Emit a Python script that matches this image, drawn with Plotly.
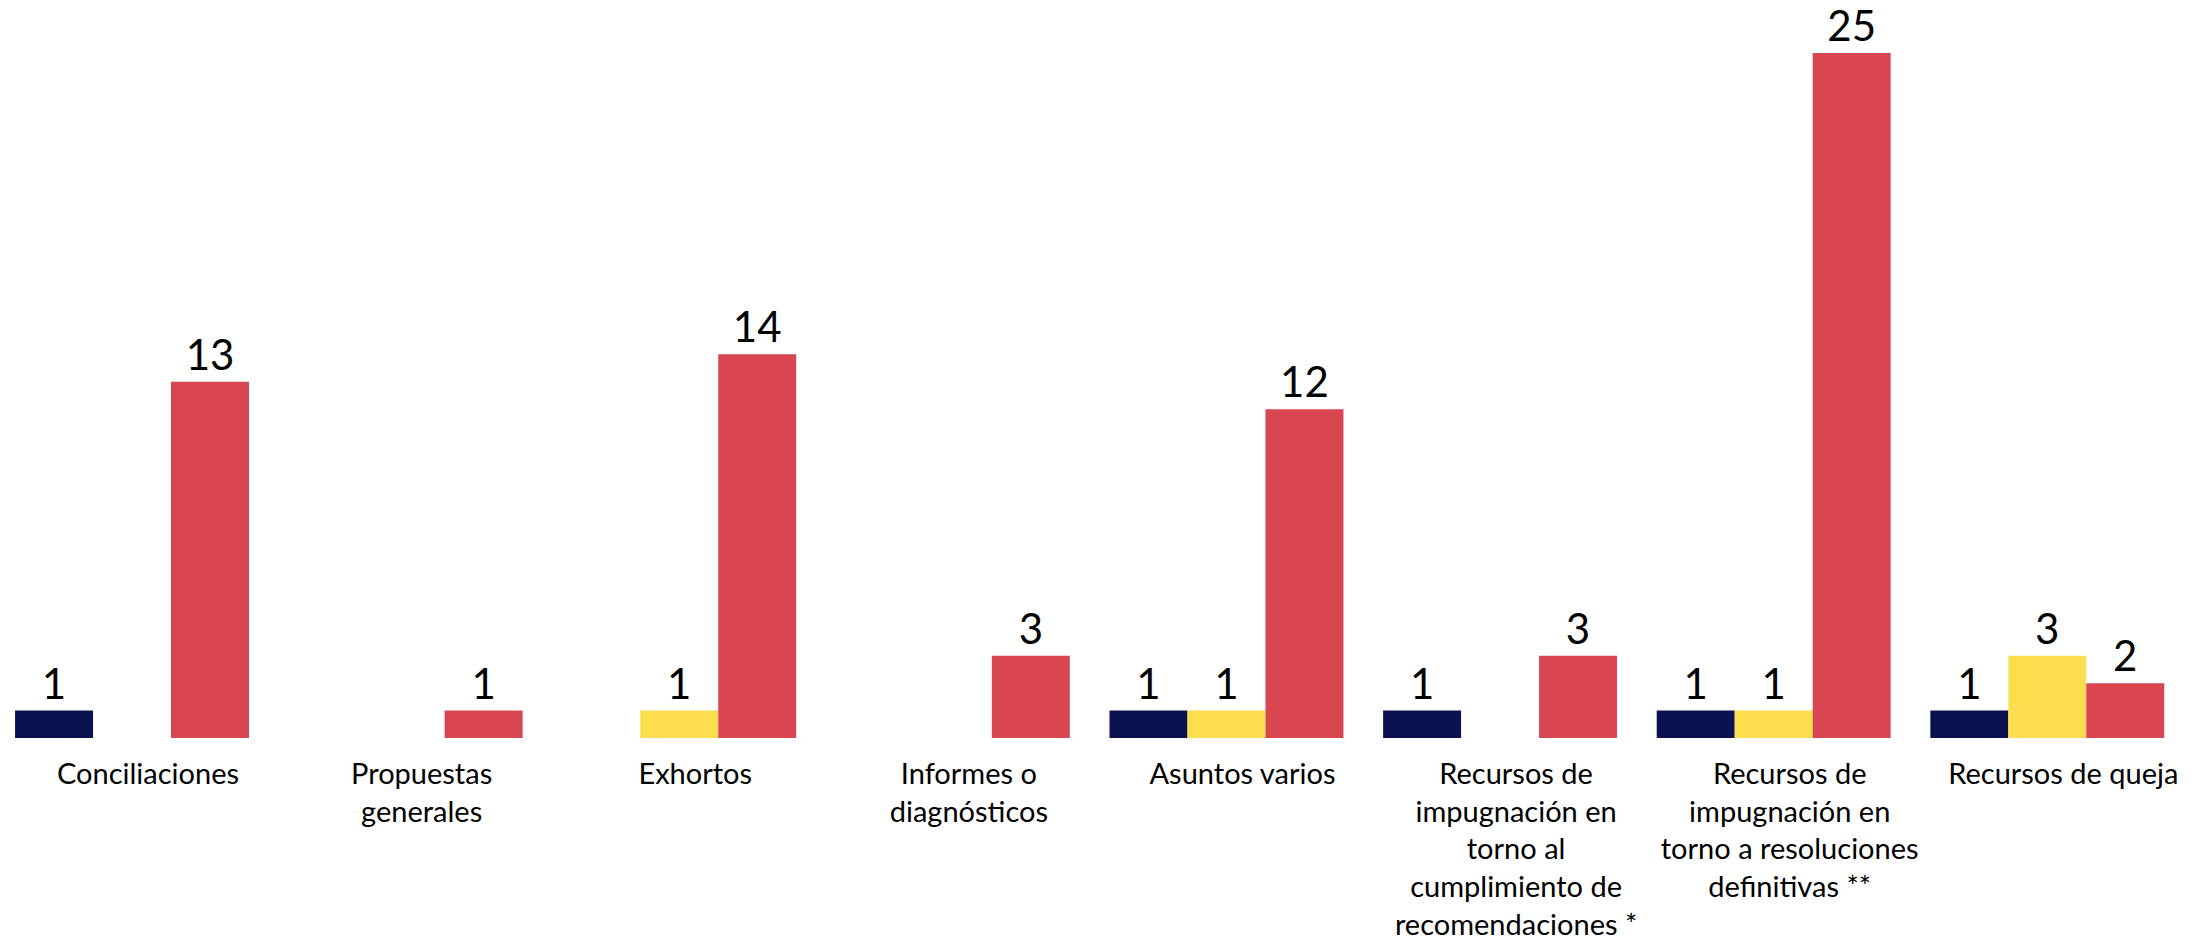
import plotly.graph_objects as go

categories = [
    "Conciliaciones",
    "Propuestas<br>generales",
    "Exhortos",
    "Informes o<br>diagnósticos",
    "Asuntos varios",
    "Recursos de<br>impugnación en<br>torno al<br>cumplimiento de<br>recomendaciones *",
    "Recursos de<br>impugnación en<br>torno a resoluciones<br>definitivas **",
    "Recursos de queja",
]
serie_a = [1, None, None, None, 1, 1, 1, 1]
serie_b = [None, None, 1, None, 1, None, 1, 3]
serie_c = [13, 1, 14, 3, 12, 3, 25, 2]

series = [
    ("Serie A", serie_a, "#0B1250"),
    ("Serie B", serie_b, "#FEDD4F"),
    ("Serie C", serie_c, "#D84652"),
]

x_idx = list(range(len(categories)))
FONT = "Lato, Open Sans, sans-serif"

fig = go.Figure()
for name, vals, color in series:
    fig.add_trace(go.Bar(
        name=name,
        x=x_idx,
        y=vals,
        marker=dict(color=color, line=dict(width=0)),
        text=[("" if v is None else str(v)) for v in vals],
        textposition="outside",
        constraintext="none",
        cliponaxis=False,
        textfont=dict(family=FONT, size=42, color="#000000"),
    ))

fig.update_layout(
    width=2206,
    height=940,
    barmode="group",
    bargap=0.145,
    bargroupgap=0,
    showlegend=False,
    plot_bgcolor="white",
    paper_bgcolor="white",
    margin=dict(l=0, r=0, t=0, b=202),
    font=dict(family=FONT, color="#000000"),
)
fig.update_xaxes(
    range=[-0.4825, 7.580],
    tickmode="array",
    tickvals=x_idx,
    ticktext=categories,
    tickfont=dict(family=FONT, size=29, color="#000000"),
    ticks="",
    showline=False,
    showgrid=False,
    zeroline=False,
    ticklabelshift=16,
    ticklabelstandoff=16,
)
fig.update_yaxes(
    range=[0, 26.93],
    visible=False,
    showgrid=False,
    zeroline=False,
)

fig.write_html(
    "out.html",
    config={"displayModeBar": False},
    post_script="document.body.style.margin='0';document.body.style.overflow='hidden';",
)
